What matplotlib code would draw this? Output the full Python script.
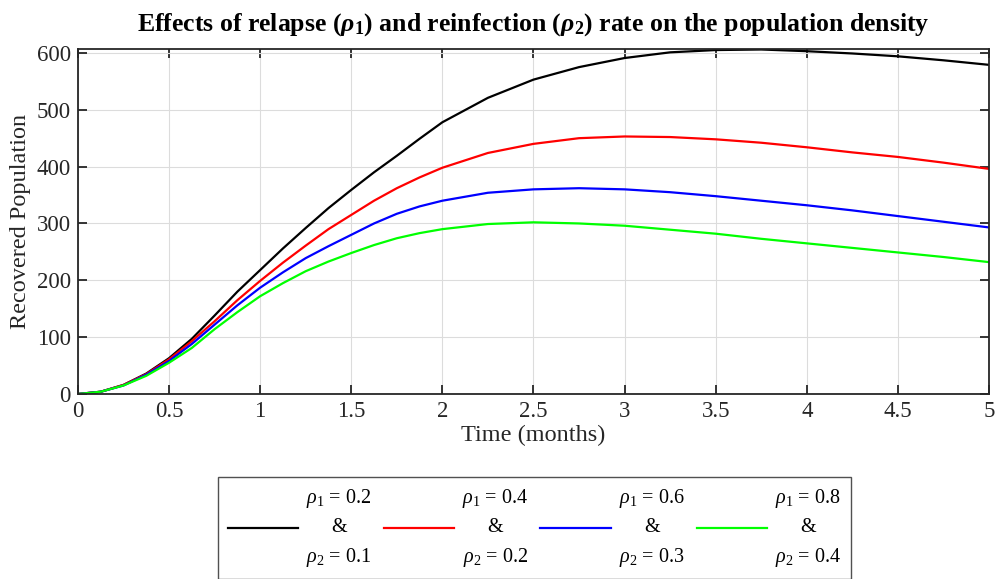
import numpy as np
import matplotlib
matplotlib.use("Agg")
import matplotlib.pyplot as plt

plt.rcParams["font.family"] = ["Liberation Serif", "DejaVu Serif"]
plt.rcParams["mathtext.fontset"] = "custom"
plt.rcParams["mathtext.rm"] = "Liberation Serif"
plt.rcParams["mathtext.it"] = "Liberation Serif:italic"
plt.rcParams["mathtext.bf"] = "Liberation Serif:bold"
plt.rcParams["mathtext.bfit"] = "Liberation Serif:bold:italic"

# time points (months) and recovered population
time = [0, 0.125, 0.25, 0.375, 0.5, 0.625, 0.75, 0.875, 1.0, 1.125, 1.25, 1.375,
        1.5, 1.625, 1.75, 1.875, 2.0, 2.25, 2.5, 2.75, 3.0, 3.25, 3.5, 3.75,
        4.0, 4.25, 4.5, 4.75, 5.0]

rec_02_01 = [0, 4, 16, 36, 63, 97, 138, 180, 218, 256, 292, 327,
             359, 390, 419, 449, 478, 521, 553, 575, 591, 601, 605, 606,
             603, 599, 594, 587, 579]
rec_04_02 = [0, 4, 16, 35, 61, 93, 128, 165, 199, 231, 261, 290,
             315, 340, 362, 381, 398, 424, 440, 450, 453, 452, 448, 442,
             434, 425, 417, 407, 396]
rec_06_03 = [0, 4, 15, 34, 58, 88, 122, 156, 187, 214, 239, 260,
             280, 300, 317, 330, 340, 354, 360, 362, 360, 355, 348, 340,
             332, 323, 313, 303, 293]
rec_08_04 = [0, 4, 15, 32, 55, 81, 114, 144, 172, 195, 216, 233,
             248, 262, 274, 283, 290, 299, 302, 300, 296, 289, 282, 273,
             265, 257, 249, 241, 232]

series = [rec_02_01, rec_04_02, rec_06_03, rec_08_04]
colors = ["black", "red", "blue", "#00ff00"]
labels = [
    r"$\rho_1$ = 0.2" + "\n&\n" + r"$\rho_2$ = 0.1",
    r"$\rho_1$ = 0.4" + "\n&\n" + r"$\rho_2$ = 0.2",
    r"$\rho_1$ = 0.6" + "\n&\n" + r"$\rho_2$ = 0.3",
    r"$\rho_1$ = 0.8" + "\n&\n" + r"$\rho_2$ = 0.4",
]

fig = plt.figure(figsize=(9.99, 5.79), dpi=100)
ax = fig.add_axes([0.078, 0.3195, 0.912, 0.596])

for y, c, lab in zip(series, colors, labels):
    ax.plot(time, y, color=c, linewidth=1.6, label=lab)

ax.set_xlim(0, 5)
ax.set_ylim(0, 607)
ax.set_xticks(np.arange(0, 5.01, 0.5))
ax.set_xticklabels(["0", "0.5", "1", "1.5", "2", "2.5", "3", "3.5", "4", "4.5", "5"])
ax.set_yticks(np.arange(0, 601, 100))
ax.grid(True, color="#dcdcdc", linewidth=0.8)
ax.tick_params(direction="in", length=6.5, width=1.3, top=True, right=True,
               labelsize=16.5, colors="#262626", pad=5)
for s in ax.spines.values():
    s.set_linewidth(1.3)
    s.set_color("#262626")

ax.set_xlabel("Time (months)", fontsize=17.5, color="#262626", labelpad=2)
ax.set_ylabel("Recovered Population", fontsize=17.5, color="#262626", labelpad=4)
ax.set_title(r"Effects of relapse ($\mathbfit{\rho}_\mathbf{1}$) and reinfection "
             r"($\mathbfit{\rho}_\mathbf{2}$) rate on the population density",
             fontsize=18.5, fontweight="bold", pad=13)

leg = fig.legend(loc="upper center", bbox_to_anchor=(0.535, 0.176), ncol=4,
                 fontsize=14.5, frameon=True, fancybox=False, edgecolor="#262626",
                 handlelength=3.5, handletextpad=0.4, columnspacing=0.6,
                 borderpad=0.5, borderaxespad=0)
leg.get_frame().set_linewidth(1.0)
for t in leg.get_texts():
    t.set_multialignment("center")
    t.set_linespacing(1.55)

fig.savefig("out.png", dpi=100)
